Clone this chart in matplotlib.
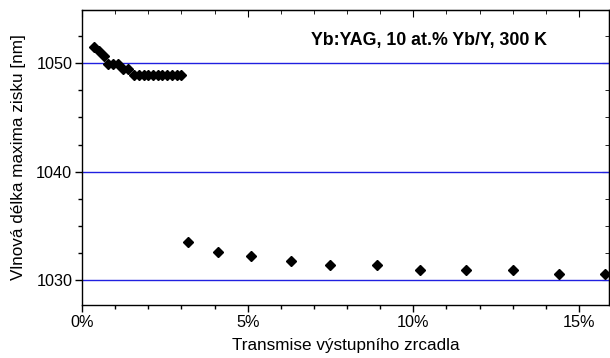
import matplotlib
matplotlib.use('Agg')
import matplotlib.pyplot as plt
from matplotlib.ticker import MultipleLocator, FuncFormatter

# transmise vystupniho zrcadla [%] a vlnova delka maxima zisku [nm]
transmission = [0.35, 0.5, 0.65, 0.8, 0.95, 1.1, 1.25, 1.4,
                1.58, 1.72, 1.86, 2.0, 2.15, 2.29, 2.43, 2.58, 2.72, 2.86, 3.0,
                3.2, 4.1, 5.1, 6.3, 7.5, 8.9, 10.2, 11.6, 13.0, 14.4, 15.8]
wavelength = [1051.5, 1051.1, 1050.7, 1049.9, 1049.9, 1049.9, 1049.45, 1049.45,
              1048.95, 1048.95, 1048.95, 1048.95, 1048.95, 1048.95, 1048.95, 1048.95,
              1048.95, 1048.95, 1048.95,
              1033.5, 1032.6, 1032.2, 1031.8, 1031.35, 1031.35, 1030.95, 1030.95,
              1030.95, 1030.55, 1030.55]
grid_levels = [1030, 1040, 1050]

plt.rcParams['font.family'] = ['Liberation Sans', 'DejaVu Sans']

fig = plt.figure(figsize=(6.1, 3.58), dpi=100)
ax = fig.add_axes([0.1344, 0.148, 0.8636, 0.824])

for lvl in grid_levels:
    ax.axhline(lvl, color='#2020e0', lw=1.0, zorder=1)

ax.plot(transmission, wavelength, 'D', color='black', markersize=5.3, zorder=3,
        clip_on=False)

ax.set_xlim(0, 15.9)
ax.set_ylim(1027.7, 1054.9)
ax.xaxis.set_major_locator(MultipleLocator(5))
ax.xaxis.set_minor_locator(MultipleLocator(1))
ax.xaxis.set_major_formatter(FuncFormatter(lambda v, p: f'{v:.0f}%'))
ax.yaxis.set_major_locator(MultipleLocator(10))
ax.yaxis.set_minor_locator(MultipleLocator(2.5))
ax.tick_params(which='major', direction='out', length=5, width=1, labelsize=11.7, pad=2)
ax.tick_params(which='minor', direction='out', length=3, width=1)

# horni a prava osa s tiky dovnitr
top = ax.secondary_xaxis('top')
top.xaxis.set_major_locator(MultipleLocator(5))
top.xaxis.set_minor_locator(MultipleLocator(1))
top.tick_params(which='major', direction='in', length=5, labeltop=False)
top.tick_params(which='minor', direction='in', length=3)
right = ax.secondary_yaxis('right')
right.yaxis.set_major_locator(MultipleLocator(10))
right.yaxis.set_minor_locator(MultipleLocator(2.5))
right.tick_params(which='major', direction='in', length=5, labelright=False)
right.tick_params(which='minor', direction='in', length=3)

for sp in ax.spines.values():
    sp.set_linewidth(1)

ax.set_xlabel('Transmise výstupního zrcadla', fontsize=12.3, labelpad=6)
ax.set_ylabel('Vlnová délka maxima zisku [nm]', fontsize=12.3, labelpad=7)

ax.text(0.434, 0.898, 'Yb:YAG, 10 at.% Yb/Y, 300 K', transform=ax.transAxes,
        fontsize=12.8, fontweight='bold', ha='left', va='center')

fig.savefig('out.png', dpi=100)
